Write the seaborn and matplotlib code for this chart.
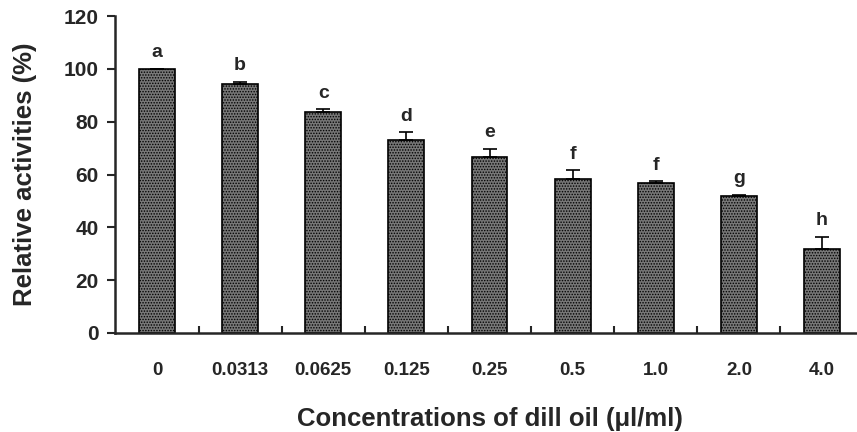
import matplotlib
matplotlib.use("Agg")
import matplotlib.pyplot as plt
import seaborn as sns
import pandas as pd
import numpy as np

concentrations = ["0", "0.0313", "0.0625", "0.125", "0.25", "0.5", "1.0", "2.0", "4.0"]
activities = [100, 94.2, 83.6, 73.1, 66.5, 58.3, 56.6, 52.0, 31.8]
errors = [0, 0.9, 1.2, 2.8, 3.2, 3.4, 0.8, 0.4, 4.6]
letters = ["a", "b", "c", "d", "e", "f", "f", "g", "h"]

sns.set_style("ticks")
plt.rcParams['font.family'] = ['Liberation Sans', 'DejaVu Sans']
plt.rcParams['hatch.linewidth'] = 0.7
plt.rcParams['hatch.color'] = '#303030'

df = pd.DataFrame({"conc": concentrations, "act": activities})

fig = plt.figure(figsize=(8.57, 4.32), dpi=100)
ax = fig.add_axes([115.4 / 857, 99 / 432, 748.2 / 857, 317 / 432])

sns.barplot(data=df, x="conc", y="act", order=concentrations, color="#777777",
            width=0.43, edgecolor="black", linewidth=1.2, hatch="......",
            saturation=1, ax=ax, errorbar=None)
for p in ax.patches:
    p.set_facecolor("#777777")

xs = np.arange(len(concentrations))
ax.errorbar(xs, activities, yerr=[np.zeros(len(errors)), errors], fmt="none",
            ecolor="black", elinewidth=1.2, capsize=5, capthick=1.2)

for x, v, e, l in zip(xs, activities, errors, letters):
    ax.text(x, v + e + 2.8, l, ha="center", va="bottom", fontsize=14, fontweight="bold")

ax.set_ylim(0, 120)
ax.set_xlim(-0.5, 8.5)
ax.set_yticks(np.arange(0, 121, 20))
ax.set_xticks(xs)
ax.set_xticklabels(concentrations)
ax.set_xticks(xs[:-1] + 0.5, minor=True)

ax.tick_params(axis="y", direction="out", length=6, width=1.5, labelsize=15, pad=6)
ax.tick_params(axis="x", which="major", length=0, labelsize=13.5, pad=21)
ax.tick_params(axis="x", which="minor", direction="in", length=5, width=1.5)
for lab in ax.get_xticklabels() + ax.get_yticklabels():
    lab.set_fontweight("bold")

for s in ["top", "right"]:
    ax.spines[s].set_visible(False)
ax.spines["left"].set_linewidth(1.8)
ax.spines["bottom"].set_linewidth(1.8)

ax.set_xlabel("Concentrations of dill oil (μl/ml)", fontsize=18.5, fontweight="bold", labelpad=20)
ax.set_ylabel("Relative activities (%)", fontsize=18.5, fontweight="bold", labelpad=19)

fig.savefig("out.png", dpi=100)
